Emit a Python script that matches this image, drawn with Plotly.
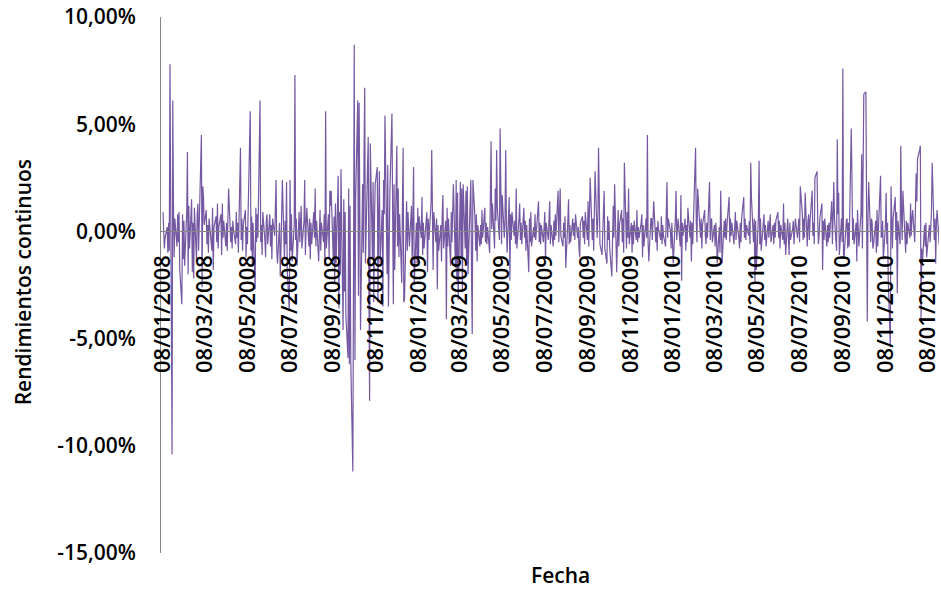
import pandas as pd
import plotly.graph_objects as go

# Rendimientos continuos diarios (%), un renglón por periodo del día 8 al día 8 del mes siguiente
r2008 = [
    0.9, 0.3, -0.8, -0.3, 0.2, -1.0, 0.4, -0.9, 7.8, -10.4, 6.1, 1.3, -1.2, 0.6, -0.7, 0.8, -0.5, 0.9, -1.8, -3.4, 0.8, -1.3, 0.5,
    -1.6, 0.9, 3.7, -2.0, 1.2, -0.8, 1.5, -1.9, 0.4, -2.2, 1.1, -1.4, 0.8, 1.3, -0.9, 0.5, 4.5, -2.6, 2.1, 1.6, 0.3,
    1.0, -0.6, 0.3, -1.0, 0.6, -0.4, -0.9, 1.1, -1.8, 0.2, 0.7, -0.5, 1.3, -0.8, 0.2, 0.8, -1.1, 1.3, -0.3, 0.5, -0.7,
    0.4, -0.9, 0.6, 2.0, -0.5, 0.2, -0.8, 0.5, 0.1, -0.6, 0.9, -0.3, 0.4, -1.0, 3.9, -0.4, 0.6, -0.9, 0.3, 1.0, -1.2, 0.2,
    -0.6, 1.4, 5.6, -0.9, 0.7, -1.6, 0.4, -2.7, 1.1, -0.5, 0.8, -0.3, 6.1, -0.5, 0.3, -1.1, 0.9, -0.4, -1.2, 0.5, 0.8, -0.6,
    0.8, -0.7, 0.3, -1.3, 0.6, -0.2, 1.0, 2.4, -0.8, -1.5, 0.4, -2.1, -0.9, 0.6, 2.4, -1.3, 0.5, -0.6, 2.3, -1.8, -3.7,
    2.4, -0.9, 0.8, -1.4, 0.3, 7.3, -0.4, 0.6, -1.6, 0.9, -0.5, 0.3, 1.2, -0.8, 0.5, 2.4, -1.1, 0.2, 1.1, -0.7, 0.6, -1.3, 0.4,
    -0.6, 0.9, -0.3, 2.0, -0.7, 0.5, -1.4, 0.3, 1.0, -0.9, 0.4, -0.5, 0.8, -1.6, 5.6, -0.8, 0.8, -1.2, 1.9, 1.2, 1.9,
    -1.4, 0.7, -2.4, 1.3, -1.5, 2.6, -3.6, 0.9, -2.0, 2.9, -4.6, 1.5, -2.8, 0.9, -3.9, -5.9, 2.0, -6.2, 1.2, -6.0, -11.2, 3.0,
    8.7, -6.0, 1.5, 6.1, -3.0, 6.0, -2.4, -4.6, 2.2, -1.0, 3.5, 6.7, -1.5, 2.0, 4.4, -2.6, -7.9, 4.1, -1.2, 2.3, -3.3, 0.5, 2.2,
    3.0, -3.3, 0.9, 2.8, -1.5, 1.0, -3.5, 2.4, 0.8, 5.4, -2.0, 3.1, -3.5, -0.5, 1.8, 5.5, 1.7, -3.4, 2.2, -1.8,
    4.0, -0.7, 2.0, -1.2, 0.8, -2.4, 1.1, 3.9, -3.3, -3.2, 1.4, -0.9, 0.9, -0.4, -0.7, 1.2, -1.5, 0.6, 3.0, -2.5, 0.4, -1.5, 1.1,
]
r2009 = [
    -1.5, 0.7, -0.3, 1.6, -1.1, 0.4, -0.8, 0.5, 0.9, -1.9, 0.6, -0.4, 1.3, 3.8, -0.6, -1.8, 0.9, -0.5, 0.6, -2.7, 0.3, -0.9,
    0.3, -1.4, 0.8, 1.7, -0.8, 0.5, -4.1, 1.1, -0.7, 0.6, -1.6, 0.9, -0.5, 1.4, 2.2, -1.7, 2.4, -2.3, 1.8, -3.2,
    2.3, -1.2, 2.0, -2.8, 2.2, -0.8, 1.9, -1.5, 2.1, -2.0, 1.0, 2.4, -1.8, -4.8, 2.4, 0.6, -0.9, 0.8, -1.4, 0.3, -0.7, 0.3,
    -0.6, 1.0, -0.3, 1.1, -0.5, 0.4, -0.6, 0.2, -1.0, 0.9, 4.2, 0.1, 1.3, -0.8, 2.0, 0.5, 3.8, 1.1, -0.4, 4.8, 0.9, -0.6,
    1.7, -0.3, 0.6, 3.8, 0.3, -1.0, 1.6, -2.3, 0.8, -0.4, 0.9, -0.2, 0.5, -0.6, 2.0, -0.8, 0.6, 1.3, -0.4, 0.4, -0.6,
    1.1, -0.3, 0.5, -0.9, 0.3, -1.9, 0.6, -0.5, 0.9, -0.7, 0.2, -0.3, 0.8, -0.4, 0.2, 1.4, -0.5, 0.4, -0.6, 0.3, -0.5, 0.6,
    0.9, -1.3, 0.4, -0.4, 0.7, 1.4, -0.6, 0.3, -0.7, 0.5, -0.4, 0.8, -0.2, 1.9, -0.5, 0.6, 2.0, -0.2, -0.7, 0.4, -0.3, 0.7, -1.7,
    0.5, 1.5, -0.6, 0.3, -0.5, 0.6, -0.2, 0.4, -0.4, 0.8, -0.3, 0.2, -0.8, -1.2, 0.4, 0.7, -0.3, 0.5, -0.6, 0.9, -0.4,
    1.4, -0.7, 0.5, 2.5, -0.4, 0.6, -0.9, 0.8, 2.8, -0.3, 0.6, 3.9, 1.9, -0.6, -1.1, 0.4, 0.9, 1.9, -0.8, -1.5, 0.7, -0.4,
    0.5, -0.8, -2.1, 0.7, 1.2, -0.3, 2.2, -1.9, 0.4, 1.0, -0.7, 0.3, 1.0, -0.5, 0.6, -1.0, 3.2, -0.8, 0.9, -0.3, 2.0, -0.6,
    0.4, -1.0, 0.3, -0.6, 0.5, -0.4, 1.0, -0.5, 0.2, -0.3, 0.4, 0.8, -1.2, 0.3, -0.7, 0.6, -0.3, 4.5, -0.5, -1.4, 0.6,
    0.6, -0.4, 0.3, 1.4, -0.5, 0.2, -0.9, 0.5, 0.1, -0.4, 0.7, -0.6, 0.3, -0.2, -0.7, 0.5, 2.3, -0.3, 0.6, 0.0, -0.8, 0.4, -0.5,
]
r2010 = [
    -1.5, 0.6, 1.9, -0.4, 0.3, 0.6, -0.7, 1.7, -2.3, 0.4, -0.2, 0.6, -0.9, 0.3, -0.5, 1.1, -0.3, 0.5, -1.4, 0.4, -0.6,
    2.2, 3.9, 0.4, -0.5, 2.0, 0.5, -0.3, 0.6, -0.8, 0.3, 1.0, -0.2, -0.6, 0.4, -0.3, 2.3, -0.4, 0.5, 0.6, -0.5,
    0.3, -0.7, 0.4, -0.3, -1.5, 0.2, -1.0, 1.9, -0.4, -1.5, 0.5, -0.3, 0.6, -0.4, 0.3, 1.6, -0.5, 0.6, -0.2, 0.4, -0.6, 0.3, 0.9,
    -0.4, 0.5, -0.3, -0.8, 0.4, -0.5, 0.6, 1.6, -0.3, 0.6, -0.4, 0.3, -0.2, 0.5, -0.6, 3.2, 1.6, -0.5, 0.6, -2.4, 0.5, -1.8,
    0.7, 3.3, -0.6, 0.6, -0.9, 0.4, 0.8, -0.4, 0.3, -0.7, 0.5, -0.3, 0.2, 0.8, -0.5, 0.3, -0.6, 0.4, -0.3, 0.5, 0.9,
    -0.3, 0.5, -0.8, 0.3, -0.4, 1.3, -0.6, 0.4, -1.1, 0.6, -0.3, -1.1, 0.4, -0.4, 0.1, 0.5, -0.6, 0.2, 0.6, -0.3, 0.4, 0.6,
    -0.5, 2.1, 0.8, -0.4, 0.6, -0.3, 1.8, -0.7, 0.5, 0.8, -0.4, 0.5, 1.9, -0.2, 0.4, -0.6, 2.5, 2.8, 0.5, -0.6, -0.2, 0.6,
    1.3, -1.8, 0.5, -0.4, 0.6, -0.7, 0.3, -0.5, 0.4, -0.3, 1.4, -0.6, 0.7, 2.3, 0.6, -0.9, 4.3, 0.8, 1.8, -1.1, 0.6, -0.5,
    7.6, -1.2, -1.1, 0.5, 0.6, -0.8, 0.4, -0.7, 4.8, 2.7, -0.4, 0.6, -0.6, 0.4, -1.4, 1.0, -0.3, -0.7, 0.9, 3.6, -0.8, 6.0,
    6.4, 6.5, -1.5, -4.2, 0.6, 2.3, -0.5, 0.6, 0.4, -0.8, -0.6, 0.5, -1.0, 1.0, -0.7, 0.4, 2.6, -0.3, -0.2, 0.5, -1.3,
    0.3, 1.8, -0.6, 0.4, -2.2, -5.4, 2.1, 0.3, -0.8, 0.6, 1.6, -0.4, 0.9, -2.9, 0.5, -0.6, 4.0, 0.8, -0.4, 1.9, -0.3, -1.0,
    0.5, -0.6, 0.4, -0.3, 1.3, -0.2, 0.6, 1.0, -0.5, 0.8, 2.7, 1.4, 3.4, 3.8, 4.0, -4.1, -0.8, -1.5, 0.3, -0.7, 0.4, -1.2, -0.7,
]
r2011 = [0.3, -0.5, 0.4, 1.0, 3.2, -0.4, 0.6, -1.5, 0.4, 1.0, -0.6, 1.2]

rendimientos = r2008 + r2009 + r2010 + r2011
fechas = pd.bdate_range("2008-01-08", periods=len(rendimientos))

# Escala vertical y sus etiquetas con coma decimal
y_min, y_max = -15, 10
y_ticks = [-15, -10, -5, 0, 5, 10]
y_labels = [f"{v:.2f}".replace(".", ",") + "%" for v in y_ticks]

AXIS_GRAY = "#868686"
FONT = "Open Sans"
TEXT_WEIGHT = 600

fig = go.Figure(
    go.Scatter(
        x=fechas,
        y=rendimientos,
        mode="lines",
        line=dict(color="#7558a2", width=1.2),
        hoverinfo="skip",
    )
)

fig.update_layout(
    width=941,
    height=589,
    margin=dict(l=161, r=0, t=17, b=36),
    paper_bgcolor="white",
    plot_bgcolor="white",
    showlegend=False,
    font=dict(family=FONT, color="black", weight=TEXT_WEIGHT),
    xaxis=dict(
        type="date",
        range=["2008-01-05 03:25", "2011-01-23 17:50"],
        tick0="2008-01-08",
        dtick="M2",
        tickformat="%d/%m/%Y",
        tickangle=-90,
        tickfont=dict(family=FONT, size=22, color="black", weight=TEXT_WEIGHT),
        ticklabeloverflow="allow",
        ticks="",
        ticklabelstandoff=14,
        showgrid=False,
        zeroline=False,
        showline=True,
        linecolor=AXIS_GRAY,
        linewidth=1,
        anchor="free",
        position=(0 - y_min) / (y_max - y_min),
    ),
    yaxis=dict(
        range=[y_min, y_max],
        tickvals=y_ticks,
        ticktext=y_labels,
        tickfont=dict(family=FONT, size=21, color="black", weight=TEXT_WEIGHT),
        ticks="",
        ticklabelstandoff=20,
        showgrid=False,
        zeroline=False,
        showline=True,
        linecolor=AXIS_GRAY,
        linewidth=1,
    ),
    annotations=[
        dict(
            text="Rendimientos continuos",
            xref="paper", yref="paper",
            x=-0.178, y=0.504,
            xanchor="center", yanchor="middle",
            textangle=-90,
            showarrow=False,
            font=dict(family=FONT, size=21, color="black", weight=TEXT_WEIGHT),
        ),
        dict(
            text="Fecha",
            xref="paper", yref="paper",
            x=0.513, y=-0.041,
            xanchor="center", yanchor="middle",
            showarrow=False,
            font=dict(family=FONT, size=21, color="black", weight=TEXT_WEIGHT),
        ),
    ],
)

fig.write_html("out.html")
